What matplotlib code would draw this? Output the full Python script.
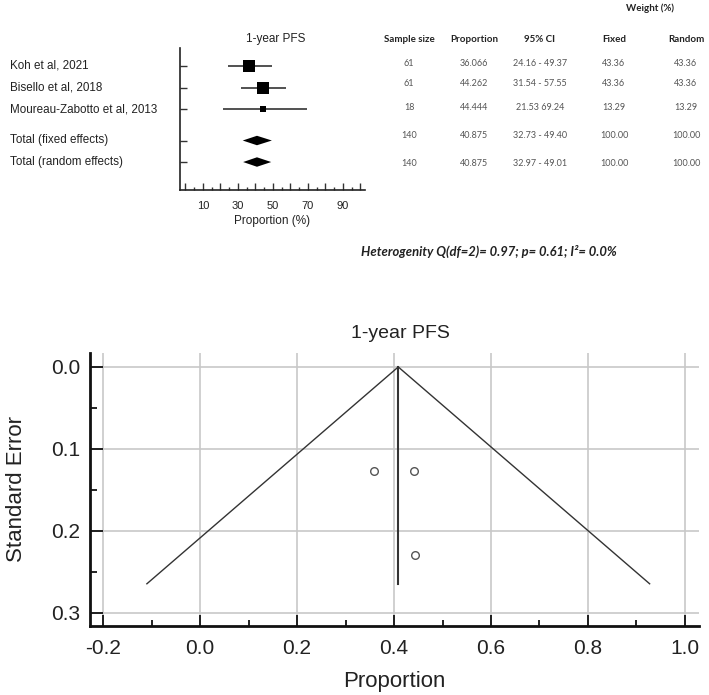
import matplotlib
matplotlib.use("Agg")
import matplotlib.pyplot as plt
import numpy as np
from matplotlib.ticker import MultipleLocator, FixedLocator

plt.rcParams['font.family'] = ['Liberation Sans', 'DejaVu Sans']

# ---------------- data ----------------
row_labels = ["Koh et al, 2021", "Bisello et al, 2018", "Moureau-Zabotto et al, 2013",
              "Total (fixed effects)", "Total (random effects)"]
row_kind = ["study", "study", "study", "total", "total"]
sample_size = ["61", "61", "18", "140", "140"]
proportion = [36.066, 44.262, 44.444, 40.875, 40.875]
proportion_txt = ["36.066", "44.262", "44.444", "40.875", "40.875"]
ci_low = [24.16, 31.54, 21.53, 32.73, 32.97]
ci_high = [49.37, 57.55, 69.24, 49.40, 49.01]
ci_txt = ["24.16 - 49.37", "31.54 - 57.55", "21.53 69.24", "32.73 - 49.40", "32.97 - 49.01"]
weight_fixed = [43.36, 43.36, 13.29, 100.00, 100.00]
weight_random = [43.36, 43.36, 13.29, 100.00, 100.00]
forest_ticklabels = [10, 30, 50, 70, 90]

heterogeneity = "Heterogenity Q(df=2)= 0.97; p= 0.61; I\u00b2= 0.0%"

funnel_prop = [0.358, 0.441, 0.443]
funnel_se = [0.127, 0.127, 0.230]
pooled = 0.40875
se_max = 0.2645
funnel_xticks = [-0.2, 0.0, 0.2, 0.4, 0.6, 0.8, 1.0]
funnel_yticks = [0.0, 0.1, 0.2, 0.3]

# ---------------- layout helpers ----------------
W, H = 709, 695
fig = plt.figure(figsize=(W / 100, H / 100), dpi=100)


def fx(x):
    return x / W


def fy(y):
    return 1 - y / H


def ax_rect(l, t, r, b):
    return [fx(l), fy(b), (r - l) / W, (b - t) / H]


# ---------------- forest plot ----------------
axf = fig.add_axes(ax_rect(180, 48, 365, 190))
row_pos = [0, 1, 2, 3.45, 4.45]
axf.set_xlim(-3.1, 102.6)
axf.set_ylim(5.75, -0.85)
for s in ["top", "right"]:
    axf.spines[s].set_visible(False)
for s in ["left", "bottom"]:
    axf.spines[s].set_linewidth(1.2)
    axf.spines[s].set_color("#222222")

for i, kind in enumerate(row_kind):
    y = row_pos[i]
    if kind == "study":
        axf.plot([ci_low[i], ci_high[i]], [y, y], color="#333333", lw=1.2,
                 solid_capstyle="butt", zorder=2)
        ms = 8.0 * np.sqrt(weight_fixed[i] / 43.36)
        axf.plot([proportion[i]], [y], marker="s", ms=ms, color="black",
                 mec="black", mew=0, zorder=3)
    else:
        h = 0.22
        axf.fill([ci_low[i], proportion[i], ci_high[i], proportion[i]],
                 [y, y - h, y, y + h], color="black", lw=0, zorder=3)

axf.set_yticks(row_pos)
axf.set_yticklabels([])
axf.tick_params(axis="y", direction="in", length=5, width=1, color="#333333")
axf.set_xticks(np.arange(0, 101, 10))
axf.xaxis.set_minor_locator(MultipleLocator(5))
axf.set_xticklabels([str(v) if v in forest_ticklabels else "" for v in range(0, 101, 10)])
axf.tick_params(axis="x", which="major", direction="in", length=5, width=1,
                color="#333333", labelsize=8, pad=8, labelcolor="#222222")
axf.tick_params(axis="x", which="minor", direction="in", length=2.5, width=1, color="#333333")
axf.set_xlabel("Proportion (%)", fontsize=8.5, labelpad=3, color="#222222")
fig.text(fx(276), fy(39), "1-year PFS", ha="center", va="center", fontsize=8.5, color="#222222")

for i, lab in enumerate(row_labels):
    fig.text(fx(10), fy([66, 88, 109, 140, 162][i]), lab, ha="left", va="center",
             fontsize=8.4, color="#222222")

# ---------------- table ----------------
tfont = ["Lato", "DejaVu Sans"]
col_x = [409, 474, 540, 614, 686]
headers = ["Sample size", "Proportion", "95% CI", "Fixed", "Random"]
fig.text(fx(650), fy(8), "Weight (%)", ha="center", va="center", fontsize=7,
         fontweight="bold", family=tfont, color="#222222")
for cx, hd in zip(col_x, headers):
    fig.text(fx(cx), fy(40), hd, ha="center", va="center", fontsize=7,
             fontweight="bold", family=tfont, color="#222222")
table_rows_y = [64, 83, 107, 135, 163]
for i, ty in enumerate(table_rows_y):
    vals = [sample_size[i], proportion_txt[i], ci_txt[i],
            f"{weight_fixed[i]:.2f}", f"{weight_random[i]:.2f}"]
    for cx, v in zip(col_x, vals):
        fig.text(fx(cx), fy(ty), v, ha="center", va="center", fontsize=6.5,
                 family=tfont, color="#555555")

fig.text(fx(489), fy(251), heterogeneity, ha="center", va="center", fontsize=9.4,
         family=tfont, fontweight="bold", fontstyle="italic", color="#222222")

# ---------------- funnel plot ----------------
axp = fig.add_axes(ax_rect(90, 353, 699, 626))
axp.set_xlim(-0.227, 1.029)
axp.set_ylim(0.316, -0.017)
for s in ["top", "right"]:
    axp.spines[s].set_visible(False)
for s in ["left", "bottom"]:
    axp.spines[s].set_linewidth(2)
    axp.spines[s].set_color("#111111")

axp.set_xticks(funnel_xticks)
axp.set_xticklabels([f"{v:.1f}" for v in funnel_xticks])
axp.xaxis.set_minor_locator(FixedLocator(np.arange(-0.1, 1.0, 0.2)))
axp.set_yticks(funnel_yticks)
axp.set_yticklabels([f"{v:.1f}" for v in funnel_yticks])
axp.yaxis.set_minor_locator(FixedLocator(np.arange(0.05, 0.3, 0.1)))
axp.grid(True, which="major", color="#c8c8c8", lw=1.2)
axp.set_axisbelow(True)
axp.tick_params(axis="both", which="major", direction="in", width=1.3, color="#111111",
                labelsize=15, labelcolor="#222222")
axp.tick_params(axis="x", which="major", length=8, pad=9)
axp.tick_params(axis="y", which="major", length=9.5, pad=7)
axp.tick_params(axis="both", which="minor", direction="in", width=1.3, color="#111111")
axp.tick_params(axis="x", which="minor", length=4.5)
axp.tick_params(axis="y", which="minor", length=5)

lo = pooled - 1.96 * se_max
hi = pooled + 1.96 * se_max
axp.plot([lo, pooled, hi], [se_max, 0, se_max], color="#333333", lw=1.0, zorder=3)
axp.plot([pooled, pooled], [0, se_max], color="#333333", lw=1.5, zorder=3)
axp.plot(funnel_prop, funnel_se, linestyle="none", marker="o", ms=5.5, mfc="white",
         mec="#555555", mew=1.0, zorder=4)

axp.set_xlabel("Proportion", fontsize=16, labelpad=10, color="#222222")
axp.set_ylabel("Standard Error", fontsize=16, labelpad=17, color="#222222")
fig.text(fx(400), fy(333), "1-year PFS", ha="center", va="center", fontsize=14, color="#222222")

fig.savefig("out.png", dpi=100)
